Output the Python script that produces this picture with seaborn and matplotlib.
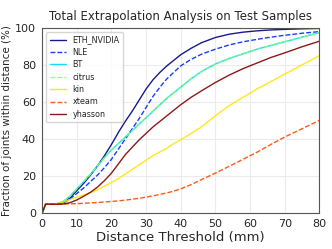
import numpy as np
import pandas as pd
import seaborn as sns
import matplotlib
matplotlib.use("Agg")
import matplotlib.pyplot as plt

# distance thresholds (mm) and fraction of joints (%)
thresholds = [0, 1, 2, 4, 6, 8, 10, 12, 14, 16, 18, 20, 22, 24, 26, 28, 30, 32, 34, 36,
              38, 40, 43, 46, 50, 54, 58, 62, 66, 70, 75, 80]

eth_nvidia = [0, 4.7, 4.7, 4.8, 5.5, 8, 12, 16, 20.5, 25.5, 31, 37, 43.5, 49.5, 55, 61,
              67, 72, 76, 79.5, 82.5, 85.5, 89, 92, 94.8, 96.6, 97.7, 98.4, 98.9, 99.2, 99.5, 99.7]
nle = [0, 4.7, 4.7, 4.8, 5.3, 7.5, 10.5, 13.5, 17, 20.5, 24.5, 29, 34.5, 40, 45.5, 51,
       57, 63, 68, 72.5, 76, 79.5, 83, 85.8, 88.5, 90.8, 92.5, 93.8, 95, 96, 97.1, 98]
bt = [0, 4.7, 4.7, 4.9, 6, 9, 13, 17, 21, 25.5, 30, 34, 37.5, 41, 44.5, 48,
      51.5, 55, 58.5, 62, 65, 68, 72.5, 76.5, 80.5, 83.5, 86, 88.5, 90.5, 92.5, 95, 97.5]
citrus = bt
kin = [0, 4.7, 4.7, 4.9, 5.8, 7.2, 8.5, 9.8, 11, 12.5, 14.5, 16.5, 18.5, 21, 23.5, 26,
       28.5, 31, 33, 35, 37.5, 39.5, 43, 46.5, 52.5, 58, 62.5, 67, 71, 75, 80, 85]
xteam = [0, 4.7, 4.7, 4.7, 4.8, 4.9, 5, 5.2, 5.4, 5.6, 5.9, 6.2, 6.5, 6.9, 7.4, 7.9,
         8.5, 9.2, 10, 10.8, 11.8, 13, 15.3, 18, 21.5, 25.2, 29, 32.8, 37, 41, 45.5, 50]
yhasson = [0, 4.7, 4.7, 4.7, 4.8, 5.5, 7, 9, 11.2, 14, 17.5, 21.5, 26.5, 31.5, 35.5, 39.5,
           43, 46.5, 49.5, 52.5, 55.5, 58.5, 62.5, 66, 70.5, 74.5, 78, 81, 84, 86.5, 89.8, 92.8]

methods = ["ETH_NVIDIA", "NLE", "BT", "citrus", "kin", "xteam", "yhasson"]
series = [eth_nvidia, nle, bt, citrus, kin, xteam, yhasson]
dashed = {"NLE", "citrus", "xteam"}

df = pd.concat(
    [pd.DataFrame({"threshold": thresholds, "fraction": vals, "method": name})
     for name, vals in zip(methods, series)],
    ignore_index=True,
)

sns.set_style("whitegrid", {"grid.color": "#ececec", "axes.edgecolor": "#555555"})
plt.rcParams["font.family"] = ["DejaVu Sans"]

colors = plt.cm.jet(np.linspace(0, 1, len(methods)))
palette = dict(zip(methods, colors))
dash_map = {m: ((3.5, 1.5) if m in dashed else "") for m in methods}

fig, ax = plt.subplots(figsize=(3.32, 2.49), dpi=100)
sns.lineplot(data=df, x="threshold", y="fraction", hue="method", style="method",
             palette=palette, dashes=dash_map, hue_order=methods, style_order=methods,
             linewidth=1.0, alpha=0.9, ax=ax)

ax.set_xlim(0, 80)
ax.set_ylim(0, 100)
ax.set_xticks(range(0, 81, 10))
ax.set_yticks(range(0, 101, 20))
ax.tick_params(labelsize=8, pad=1)
ax.set_title("Total Extrapolation Analysis on Test Samples", fontsize=8.5)
ax.set_xlabel("Distance Threshold (mm)", fontsize=9.5, labelpad=1)
ax.set_ylabel("Fraction of joints within distance (%)", fontsize=7.5, labelpad=2)
for s in ax.spines.values():
    s.set_linewidth(0.8)

leg = ax.legend(loc="upper left", fontsize=5.8, handlelength=2.0, frameon=True,
                borderpad=0.45, labelspacing=0.42)
leg.get_frame().set_edgecolor("#cccccc")

plt.subplots_adjust(left=0.127, right=0.962, top=0.888, bottom=0.145)
fig.savefig("out.png", dpi=100)
